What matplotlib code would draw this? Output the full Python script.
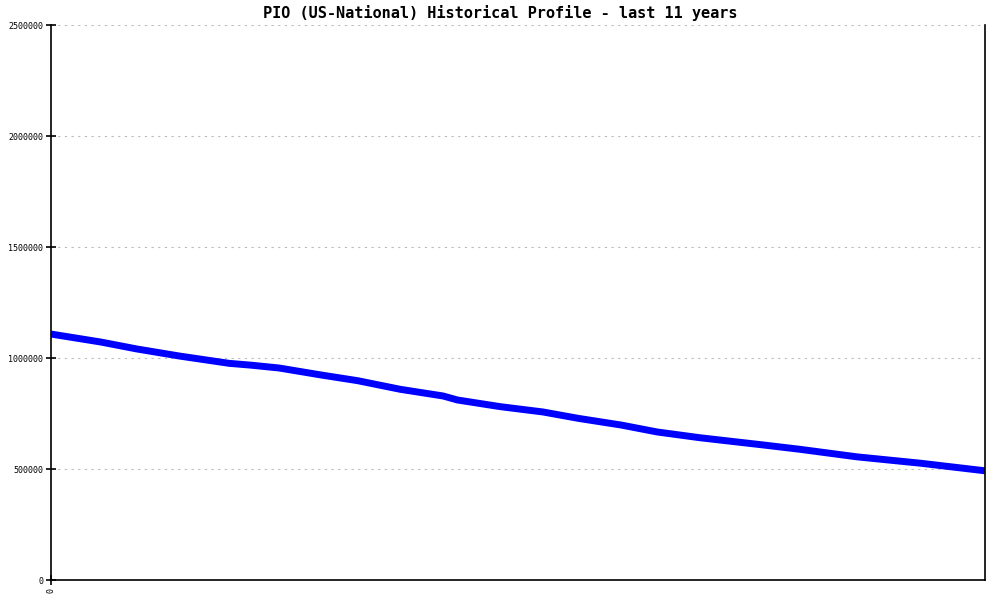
import matplotlib
matplotlib.use("Agg")
import matplotlib.pyplot as plt

# month index (last 11 years) and values
months = [0, 7, 12, 18, 25, 28, 32, 38, 43, 49, 55, 57, 63, 69, 74, 80, 85, 91, 100, 105, 113, 122, 131]
values = [1108000, 1072000, 1041000, 1009000, 976000, 968000, 955000, 923000, 898000, 859000,
          829000, 811000, 781000, 757000, 728000, 698000, 667000, 641000, 608000, 589000,
          555000, 526000, 492000]
yticks = [0, 500000, 1000000, 1500000, 2000000, 2500000]
title = "PIO (US-National) Historical Profile - last 11 years"

fig = plt.figure(figsize=(10, 6), dpi=100)
ax = fig.add_axes([0.051, 0.0333, 0.934, 0.925])

ax.plot(months, values, color="#0000ff", linewidth=5, solid_capstyle="butt")

ax.set_xlim(0, 131)
ax.set_ylim(0, 2500000)
ax.set_yticks(yticks)
ax.set_yticklabels([str(t) for t in yticks], fontsize=6, family="DejaVu Sans Mono")
ax.set_xticks([0])
ax.set_xticklabels(["0"], fontsize=6, family="DejaVu Sans Mono", rotation=90)
ax.tick_params(axis="y", direction="inout", length=7, width=1.2, pad=2)
ax.tick_params(axis="x", direction="inout", length=7, width=1.2, pad=2)

ax.grid(axis="y", linestyle=(0, (2, 4)), color="#bbbbbb", linewidth=0.8)
ax.set_axisbelow(True)
ax.spines["top"].set_visible(False)
for s in ["left", "bottom", "right"]:
    ax.spines[s].set_linewidth(1.2)

fig.text(0.5, 0.978, title, ha="center", va="center", fontsize=11,
         family="DejaVu Sans Mono", fontweight="semibold")

fig.savefig("out.png", dpi=100)
